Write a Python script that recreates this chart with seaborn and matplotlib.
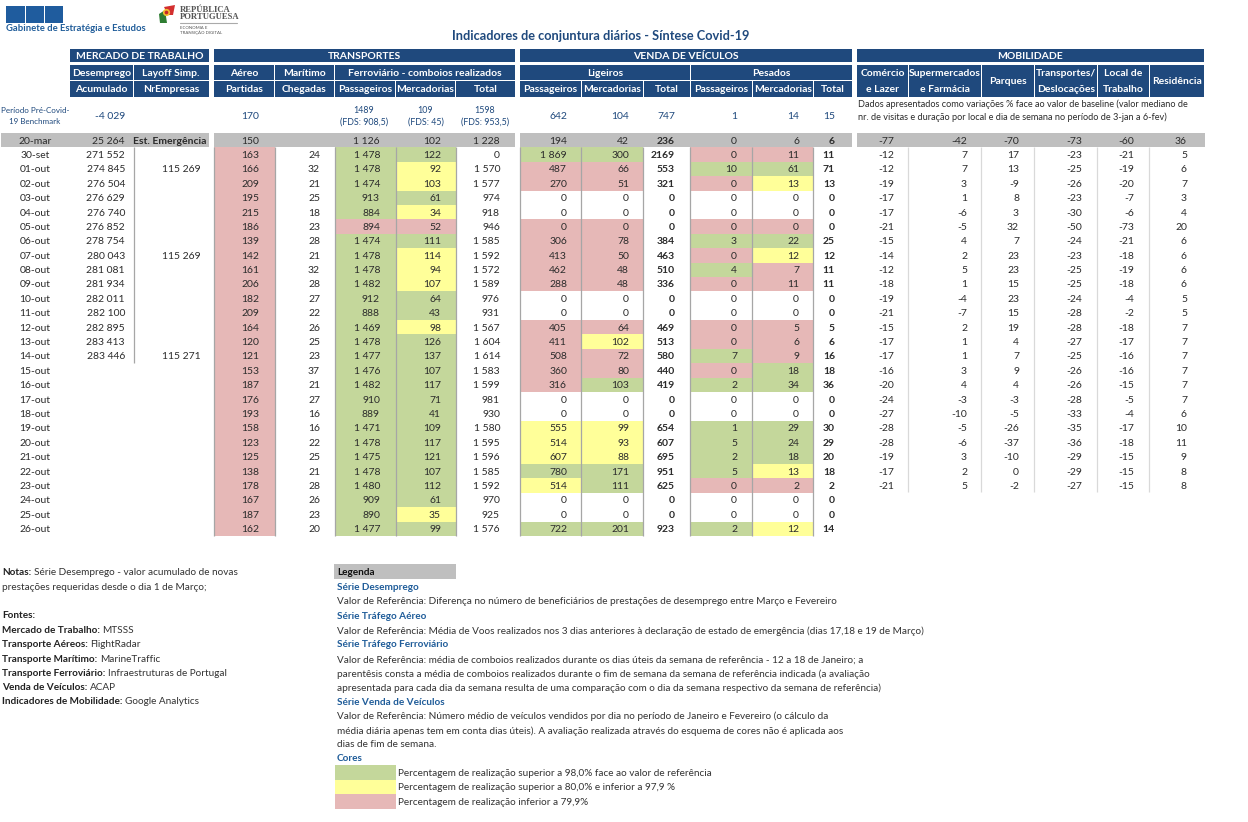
import numpy as np
import pandas as pd
import seaborn as sns
import matplotlib
matplotlib.use("Agg")
import matplotlib.pyplot as plt
from matplotlib.colors import ListedColormap
from matplotlib.patches import Rectangle, Circle, Polygon

sns.set_theme(style="white")
plt.rcParams['font.family'] = ['Lato', 'DejaVu Sans']

# ---------- data ----------
dates = ['20-mar', '30-set'] + [f'{d:02d}-out' for d in range(1, 27)]
desemprego = [25264, 271552, 274845, 276504, 276629, 276740, 276852, 278754, 280043, 281081, 281934, 282011, 282100, 282895, 283413, 283446] + [None]*12
layoff = ['Est. Emergência', None, 115269, None, None, None, None, None, 115269, None, None, None, None, None, None, 115271] + [None]*12
aereo = [150, 163, 166, 209, 195, 215, 186, 139, 142, 161, 206, 182, 209, 164, 120, 121, 153, 187, 176, 193, 158, 123, 125, 138, 178, 167, 187, 162]
maritimo = [None, 24, 32, 21, 25, 18, 23, 28, 21, 32, 28, 27, 22, 26, 25, 23, 37, 21, 27, 16, 16, 22, 25, 21, 28, 26, 23, 20]
ferro_pass = [1126, 1478, 1478, 1474, 913, 884, 894, 1474, 1478, 1478, 1482, 912, 888, 1469, 1478, 1477, 1476, 1482, 910, 889, 1471, 1478, 1475, 1478, 1480, 909, 890, 1477]
ferro_merc = [102, 122, 92, 103, 61, 34, 52, 111, 114, 94, 107, 64, 43, 98, 126, 137, 107, 117, 71, 41, 109, 117, 121, 107, 112, 61, 35, 99]
ferro_total = [1228, 0, 1570, 1577, 974, 918, 946, 1585, 1592, 1572, 1589, 976, 931, 1567, 1604, 1614, 1583, 1599, 981, 930, 1580, 1595, 1596, 1585, 1592, 970, 925, 1576]
lig_pass = [194, 1869, 487, 270, 0, 0, 0, 306, 413, 462, 288, 0, 0, 405, 411, 508, 360, 316, 0, 0, 555, 514, 607, 780, 514, 0, 0, 722]
lig_merc = [42, 300, 66, 51, 0, 0, 0, 78, 50, 48, 48, 0, 0, 64, 102, 72, 80, 103, 0, 0, 99, 93, 88, 171, 111, 0, 0, 201]
lig_total = [236, 2169, 553, 321, 0, 0, 0, 384, 463, 510, 336, 0, 0, 469, 513, 580, 440, 419, 0, 0, 654, 607, 695, 951, 625, 0, 0, 923]
pes_pass = [0, 0, 10, 0, 0, 0, 0, 3, 0, 4, 0, 0, 0, 0, 0, 7, 0, 2, 0, 0, 1, 5, 2, 5, 0, 0, 0, 2]
pes_merc = [6, 11, 61, 13, 0, 0, 0, 22, 12, 7, 11, 0, 0, 5, 6, 9, 18, 34, 0, 0, 29, 24, 18, 13, 2, 0, 0, 12]
pes_total = [6, 11, 71, 13, 0, 0, 0, 25, 12, 11, 11, 0, 0, 5, 6, 16, 18, 36, 0, 0, 30, 29, 20, 18, 2, 0, 0, 14]
mob_comercio = [-77, -12, -12, -19, -17, -17, -21, -15, -14, -12, -18, -19, -21, -15, -17, -17, -16, -20, -24, -27, -28, -28, -19, -17, -21] + [None]*3
mob_super = [-42, 7, 7, 3, 1, -6, -5, 4, 2, 5, 1, -4, -7, 2, 1, 1, 3, 4, -3, -10, -5, -6, 3, 2, 5] + [None]*3
mob_parques = [-70, 17, 13, -9, 8, 3, 32, 7, 23, 23, 15, 23, 15, 19, 4, 7, 9, 4, -3, -5, -26, -37, -10, 0, -2] + [None]*3
mob_transp = [-73, -23, -25, -26, -23, -30, -50, -24, -23, -25, -25, -24, -28, -28, -27, -25, -26, -26, -28, -33, -35, -36, -29, -29, -27] + [None]*3
mob_trab = [-60, -21, -19, -20, -7, -6, -73, -21, -18, -19, -18, -4, -2, -18, -17, -16, -16, -15, -5, -4, -17, -18, -15, -15, -15] + [None]*3
mob_resid = [36, 5, 6, 7, 3, 4, 20, 6, 6, 6, 6, 5, 5, 7, 7, 7, 7, 7, 7, 6, 10, 11, 9, 8, 8] + [None]*3

# status letters per day (G green, Y yellow, P pink, W white); first row of the table is always grey
st_aereo = 'P' * 27
st_fpass = 'GGGGGPGGGGGGGGGGGGGGGGGGGGG'
st_fmerc = 'GYYGYPGYYYGGYGGGGGGGGGGGGYG'
st_lpass = 'GPPWWPPPPPWWPPPPPWWYYYGYWWG'
st_lmerc = 'GPPWWPPPPPWWPYPPGWWYYYGGWWG'
st_ppass = 'PGPWWPGPGPWWPPGPGWWGGGGPWWG'
st_pmerc = 'PGYWWPGYPPWWPPPGGWWGGGYPWWY'

bench_desemprego = -4029
bench_aereo = 170
bench_ferro = [('1489', '(FDS: 908,5)'), ('109', '(FDS: 45)'), ('1598', '(FDS: 953,5)')]
bench_veic = [642, 104, 747, 1, 14, 15]

# ---------- styling ----------
NAVY, BLUE, TXT = '#1F497D', '#1F5C99', '#2B2B2B'
code = {'W': 0, 'G': 1, 'Y': 2, 'P': 3, 'X': 4}
cmap = ListedColormap(['#FFFFFF', '#C4D79B', '#FFFF99', '#E6B8B7', '#BFBFBF'])
W, H = 1248, 822
FS = 7.5

fig = plt.figure(figsize=(W/100, H/100), dpi=100, facecolor='white')

def fmt(v, group=True):
    if v is None:
        return ''
    if isinstance(v, str):
        return v
    if group and abs(v) >= 1000:
        s = f'{abs(v):,}'.replace(',', ' ')
        return ('-' if v < 0 else '') + s
    return str(v)

Y0, Y1 = 133.0, 536.0

def column(x0, x1, vals, status=None, right=None, bold=False, group=True, center=False):
    """One table column drawn as a one-column seaborn heatmap."""
    ax = fig.add_axes([x0/W, 1 - Y1/H, (x1-x0)/W, (Y1-Y0)/H], zorder=2)
    st = status if status is not None else 'W'*27
    m = np.array([code['X']] + [code[c] for c in st]).reshape(-1, 1)
    labels = np.array([fmt(v, group) for v in vals], dtype=object).reshape(-1, 1)
    sns.heatmap(pd.DataFrame(m), ax=ax, cmap=cmap, vmin=-0.5, vmax=4.5, cbar=False,
                xticklabels=False, yticklabels=False, annot=labels, fmt='',
                annot_kws=dict(color=TXT, fontsize=FS, fontweight='bold' if bold else 'normal',
                               ha='center' if center else 'right', va='center'))
    for t in ax.texts:
        t.set_y(t.get_position()[1] + 0.06)
        if not center:
            t.set_x((right - x0) / (x1 - x0))
    return ax

cols = [
    (1, 70, dates, None, 48, False, True, True),
    (70, 134, desemprego, None, 125, False, True, False),
    (134, 209, layoff, None, 201, False, True, False),
    (214, 274.5, aereo, st_aereo, 259, False, True, False),
    (274.5, 334.5, maritimo, None, 320, False, True, False),
    (334.5, 395.5, ferro_pass, st_fpass, 380, False, True, False),
    (395.5, 455.5, ferro_merc, st_fmerc, 441, False, True, False),
    (455.5, 515, ferro_total, None, 500, False, True, False),
    (520, 581, lig_pass, st_lpass, 567, False, True, False),
    (581, 643, lig_merc, st_lmerc, 629, False, True, False),
    (643, 690, lig_total, None, 675, True, False, False),
    (690, 752, pes_pass, st_ppass, 737, False, True, False),
    (752, 813, pes_merc, st_pmerc, 799, False, True, False),
    (813, 852, pes_total, None, 835, True, True, False),
    (857, 908, mob_comercio, None, 894, False, True, False),
    (908, 981, mob_super, None, 967, False, True, False),
    (981, 1034, mob_parques, None, 1019, False, True, False),
    (1034, 1097, mob_transp, None, 1082, False, True, False),
    (1097, 1149, mob_trab, None, 1134, False, True, False),
    (1149, 1205, mob_resid, None, 1187, False, True, False),
]
for c in cols:
    column(c[0], c[1], c[2], status=c[3], right=c[4], bold=c[5], group=c[6], center=c[7])
# date labels sit at the centre of a narrower cell
for t in fig.axes[0].texts:
    t.set_x(34.0 / 69.0)
# bold label on the grey row
fig.axes[2].texts[0].set_fontweight('bold')
fig.axes[2].texts[0].set_x((206 - 134) / 75)

# ---------- overlay in pixel coordinates: headers, rules, notes ----------
ov = fig.add_axes([0, 0, 1, 1], zorder=5)
ov.set_xlim(0, W); ov.set_ylim(H, 0); ov.axis('off'); ov.patch.set_alpha(0)

def T(x, y, s, size=FS, color=TXT, weight='normal', ha='left', va='center', **kw):
    return ov.text(x, y + 0.8, s, fontsize=size, color=color, fontweight=weight, ha=ha, va=va, **kw)

def H_box(x0, x1, y0, y1, lines, size=FS):
    ov.add_patch(Rectangle((x0, y0), x1-x0, y1-y0, fc=NAVY, ec='none'))
    if len(lines) == 1:
        T((x0+x1)/2, (y0+y1)/2, lines[0], size=size, color='white', weight='bold', ha='center')
    else:
        T((x0+x1)/2, y0+8, lines[0], size=size, color='white', weight='bold', ha='center')
        T((x0+x1)/2, y1-8, lines[1], size=size, color='white', weight='bold', ha='center')

# group headers
for x0, x1, s in [(70, 209, 'MERCADO DE TRABALHO'), (214, 515, 'TRANSPORTES'),
                  (520, 852, 'VENDA DE VEÍCULOS'), (857, 1204, 'MOBILIDADE')]:
    H_box(x0, x1, 49, 62, [s])
# second row
for x0, x1, s in [(70, 133, 'Desemprego'), (134, 208.5, 'Layoff Simp.'), (214, 274, 'Aéreo'),
                  (275, 334, 'Marítimo'), (335, 515, 'Ferroviário - comboios realizados'),
                  (520, 690, 'Ligeiros'), (691, 852, 'Pesados')]:
    H_box(x0, x1, 65, 80, [s])
# third row
for x0, x1, s in [(70, 133, 'Acumulado'), (134, 208.5, 'NrEmpresas'), (214, 274, 'Partidas'),
                  (275, 334, 'Chegadas'), (335, 395, 'Passageiros'), (396, 455, 'Mercadorias'),
                  (456, 515, 'Total'), (520, 581, 'Passageiros'), (582, 643, 'Mercadorias'),
                  (644, 690, 'Total'), (691, 752, 'Passageiros'), (753, 813, 'Mercadorias'),
                  (814, 852, 'Total')]:
    H_box(x0, x1, 81, 97, [s])
# mobility headers (two rows merged)
for x0, x1, ls in [(857, 908, ['Comércio', 'e Lazer']), (909, 981, ['Supermercados', 'e Farmácia']),
                   (982, 1034, ['Parques']), (1035, 1097, ['Transportes/', 'Deslocações']),
                   (1098, 1149, ['Local de', 'Trabalho']), (1150, 1204, ['Residência'])]:
    H_box(x0, x1, 65, 97, ls)

# benchmark row
T(35, 110, 'Período Pré-Covid-', size=5.8, color=NAVY, ha='center')
T(35, 121, '19 Benchmark', size=5.8, color=NAVY, ha='center')
T(125, 115.5, fmt(bench_desemprego), color=NAVY, ha='right')
T(259, 115.5, str(bench_aereo), color=NAVY, ha='right')
for xc, (a, b) in zip([364, 425.5, 485], bench_ferro):
    T(xc, 109.5, a, size=6.4, color=NAVY, ha='center')
    T(xc, 121.5, b, size=6.4, color=NAVY, ha='center')
for xr, v in zip([567, 629, 675, 737, 799, 835], bench_veic):
    T(xr, 115.5, str(v), color=NAVY, ha='right')
T(858, 103, 'Dados apresentados como variações % face ao valor de baseline (valor mediano de', size=6.6)
T(858, 116.5, 'nr. de visitas e duração por local e dia de semana no período de 3-jan a 6-fev)', size=6.6)

# column rules
for x in [214, 274.5, 334.5, 395.5, 455.5, 520, 581, 643, 690, 752, 813]:
    ov.plot([x, x], [147.5, 536], color='#A6A6A6', lw=0.9, solid_capstyle='butt')
ov.plot([133.5, 133.5], [147.5, 363], color='#A6A6A6', lw=0.9, solid_capstyle='butt')
for x in [908, 981, 1034, 1097, 1149]:
    ov.plot([x, x], [147.5, 492], color='#D9D9D9', lw=0.9, solid_capstyle='butt')

# title
T(601, 35, 'Indicadores de conjuntura diários - Síntese Covid-19', size=9.2, color=NAVY, weight='bold', ha='center')

# logos
for x0, x1 in [(6, 24.5), (26, 43.5), (45, 63)]:
    ov.add_patch(Rectangle((x0, 6), x1-x0, 17, fc='#1F5C9E', ec='none'))
T(6, 27.5, 'Gabinete de Estratégia e Estudos', size=6.8, color=BLUE, weight='bold')
ov.add_patch(Polygon([(159, 14), (165, 10), (167, 23), (160, 23)], fc='#2E7D32', ec='none'))
ov.add_patch(Polygon([(164, 7), (175, 5), (173, 15), (168, 15)], fc='#D32F2F', ec='none'))
ov.add_patch(Circle((166.5, 12.5), 3.6, fc='#F2C230', ec='none'))
ov.add_patch(Circle((166.5, 12.5), 1.9, fc='#C62828', ec='none'))
T(180, 9, 'REPÚBLICA', size=6.2, color='#555555', weight='bold', family='Liberation Serif')
T(180, 16.5, 'PORTUGUESA', size=6.2, color='#555555', weight='bold', family='Liberation Serif')
ov.plot([180, 237], [23, 23], color='#AAAAAA', lw=0.8)
T(180, 27, 'ECONOMIA E', size=3.2, color='#555555')
T(180, 31.5, 'TRANSIÇÃO DIGITAL', size=3.2, color='#555555')

# notes
rend = fig.canvas.get_renderer()
def bold_then(x, y, b, r, size=7.2):
    t = T(x, y, b, size=size, color='#222222', weight='bold')
    if r:
        bb = t.get_window_extent(rend)
        T(bb.x1 + 2.5, y, r, size=size, color='#333333')

bold_then(2, 572, 'Notas:', 'Série Desemprego - valor acumulado de novas')
T(2, 586.5, 'prestações requeridas desde o dia 1 de Março;', size=7.2, color='#333333')
bold_then(2, 615, 'Fontes:', '')
for y, b, r in [(629.5, 'Mercado de Trabalho:', 'MTSSS'), (644, 'Transporte Aéreos:', 'FlightRadar'),
                (658.5, 'Transporte Marítimo:', 'MarineTraffic'),
                (673, 'Transporte Ferroviário:', 'Infraestruturas de Portugal'),
                (687, 'Venda de Veículos:', 'ACAP'),
                (701, 'Indicadores de Mobilidade:', 'Google Analytics')]:
    bold_then(2, y, b, r)

# legend
ov.add_patch(Rectangle((334, 564), 122, 15, fc='#BFBFBF', ec='none'))
T(337, 572, 'Legenda', size=7.2, color='#111111', weight='bold')
leg = [(587, 'Série Desemprego', 1),
       (601, 'Valor de Referência: Diferença no número de beneficiários de prestações de desemprego entre Março e Fevereiro', 0),
       (615.5, 'Série Tráfego Aéreo', 1),
       (630, 'Valor de Referência: Média de Voos realizados nos 3 dias anteriores à declaração de estado de emergência (dias 17,18 e 19 de Março)', 0),
       (644, 'Série Tráfego Ferroviário', 1),
       (659, 'Valor de Referência: média de comboios realizados durante os dias úteis da semana de referência - 12 a 18 de Janeiro; a', 0),
       (673, 'parentêsis consta a média de comboios realizados durante o fim de semana da semana de referência indicada (a avaliação', 0),
       (687.5, 'apresentada para cada dia da semana resulta de uma comparação com o dia da semana respectivo da semana de referência)', 0),
       (701.5, 'Série Venda de Veículos', 1),
       (715.5, 'Valor de Referência: Número médio de veículos vendidos por dia no período de Janeiro e Fevereiro (o cálculo da', 0),
       (730, 'média diária apenas tem em conta dias úteis). A avaliação realizada através do esquema de cores não é aplicada aos', 0),
       (744, 'dias de fim de semana.', 0),
       (758, 'Cores', 1)]
for y, s, h in leg:
    if h:
        T(337, y, s, size=7.2, color=BLUE, weight='bold')
    else:
        T(337, y, s, size=7.18, color='#333333')
for y0, c, s in [(765, 'G', 'Percentagem de realização superior a 98,0% face ao valor de referência'),
                 (779.5, 'Y', 'Percentagem de realização superior a 80,0% e inferior a 97,9 %'),
                 (794, 'P', 'Percentagem de realização inferior a 79,9%')]:
    ov.add_patch(Rectangle((335, y0), 61, 14.5, fc=cmap(code[c]), ec='none'))
    T(397.5, y0 + 7.3, s, size=7.2, color='#333333')

fig.savefig('out.png', dpi=100, facecolor='white')
